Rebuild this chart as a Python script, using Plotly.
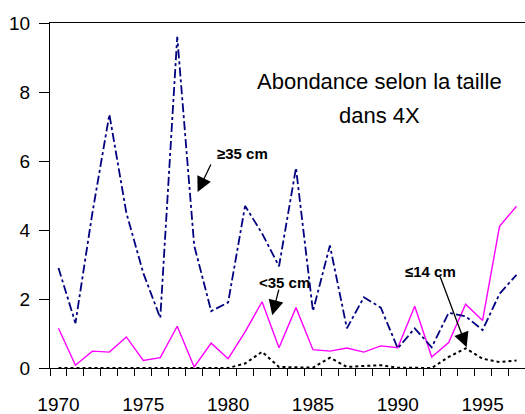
import plotly.graph_objects as go

years = list(range(1970, 1998))
ge35 = [2.9, 1.3, 4.5, 7.35, 4.5, 2.75, 1.45, 9.6, 3.55, 1.65, 1.9, 4.7, 3.9, 2.95,
        5.8, 1.65, 3.55, 1.15, 2.05, 1.75, 0.57, 1.15, 0.6, 1.6, 1.5, 1.1, 2.15, 2.7]
lt35 = [1.15, 0.08, 0.49, 0.46, 0.9, 0.22, 0.3, 1.21, 0.03, 0.72, 0.27, 1.05, 1.92, 0.59,
        1.75, 0.53, 0.49, 0.58, 0.46, 0.64, 0.59, 1.79, 0.32, 0.74, 1.85, 1.38, 4.11, 4.69]
le14 = [0, 0, 0, 0, 0, 0, 0, 0, 0, 0, 0, 0.13, 0.47, 0.03, 0.03, 0.01, 0.3, 0.03,
        0.06, 0.08, 0.01, 0.0, 0.0, 0.32, 0.57, 0.27, 0.17, 0.22]
x_labels = [1970, 1975, 1980, 1985, 1990, 1995]
y_ticks = [0, 2, 4, 6, 8, 10]

FONT = "Liberation Sans, Arial, sans-serif"

fig = go.Figure()
fig.add_trace(go.Scatter(x=years, y=le14, mode="lines",
                         line=dict(color="black", width=2, dash="dot"), name="≤14 cm"))
fig.add_trace(go.Scatter(x=years, y=lt35, mode="lines",
                         line=dict(color="#FF00FF", width=1.4), name="<35 cm"))
fig.add_trace(go.Scatter(x=years, y=ge35, mode="lines",
                         line=dict(color="#000080", width=1.8, dash="dashdot"), name="≥35 cm"))

# title annotations
fig.add_annotation(x=1988.9, y=8.3, text="Abondance selon la taille", showarrow=False,
                   font=dict(family=FONT, size=22, color="black"))
fig.add_annotation(x=1988.9, y=7.33, text="dans 4X", showarrow=False,
                   font=dict(family=FONT, size=22, color="black"))

labels = [
    ("≥35 cm", 1980.85, 6.23, 1978.2, 5.10, 14, -29),
    ("<35 cm", 1983.3, 2.47, 1982.6, 1.53, 7, -27),
    ("≤14 cm", 1991.9, 2.80, 1994.06, 0.60, -27, -72),
]
for txt, tx, ty, hx, hy, ax, ay in labels:
    fig.add_annotation(x=tx, y=ty, text="<b>%s</b>" % txt, showarrow=False,
                       font=dict(family=FONT, size=15, color="black"))
    fig.add_annotation(x=hx, y=hy, text="", showarrow=True, ax=ax, ay=ay,
                       arrowhead=2, arrowsize=2.3, arrowwidth=1.3, arrowcolor="black",
                       standoff=0, startstandoff=0)

fig.update_layout(
    width=525, height=414,
    margin=dict(l=50, r=0, t=23, b=46, autoexpand=False),
    paper_bgcolor="white", plot_bgcolor="white",
    showlegend=False,
    font=dict(family=FONT, color="black"),
)
fig.update_xaxes(
    range=[1969.5, 1997.5], tickvals=x_labels, ticks="", showgrid=False, zeroline=False,
    showline=True, linecolor="black", linewidth=1, mirror=True, automargin=False,
    tickfont=dict(family=FONT, size=19, color="black"), ticklabelstandoff=19,
    minor=dict(tickvals=[y - 0.5 for y in years] + [years[-1] + 0.5], ticks="outside",
               ticklen=7, tickcolor="black", tickwidth=1, showgrid=False),
)
fig.update_yaxes(
    range=[0, 10], tickvals=y_ticks, ticks="outside", ticklen=10, tickcolor="black",
    showgrid=False, zeroline=False, showline=True, linecolor="black", linewidth=1,
    automargin=False,
    tickfont=dict(family=FONT, size=19, color="black"), ticklabelstandoff=5,
)

fig.write_html("out.html", config={"displayModeBar": False},
               post_script="document.body.style.margin='0';document.body.style.overflow='hidden';")
